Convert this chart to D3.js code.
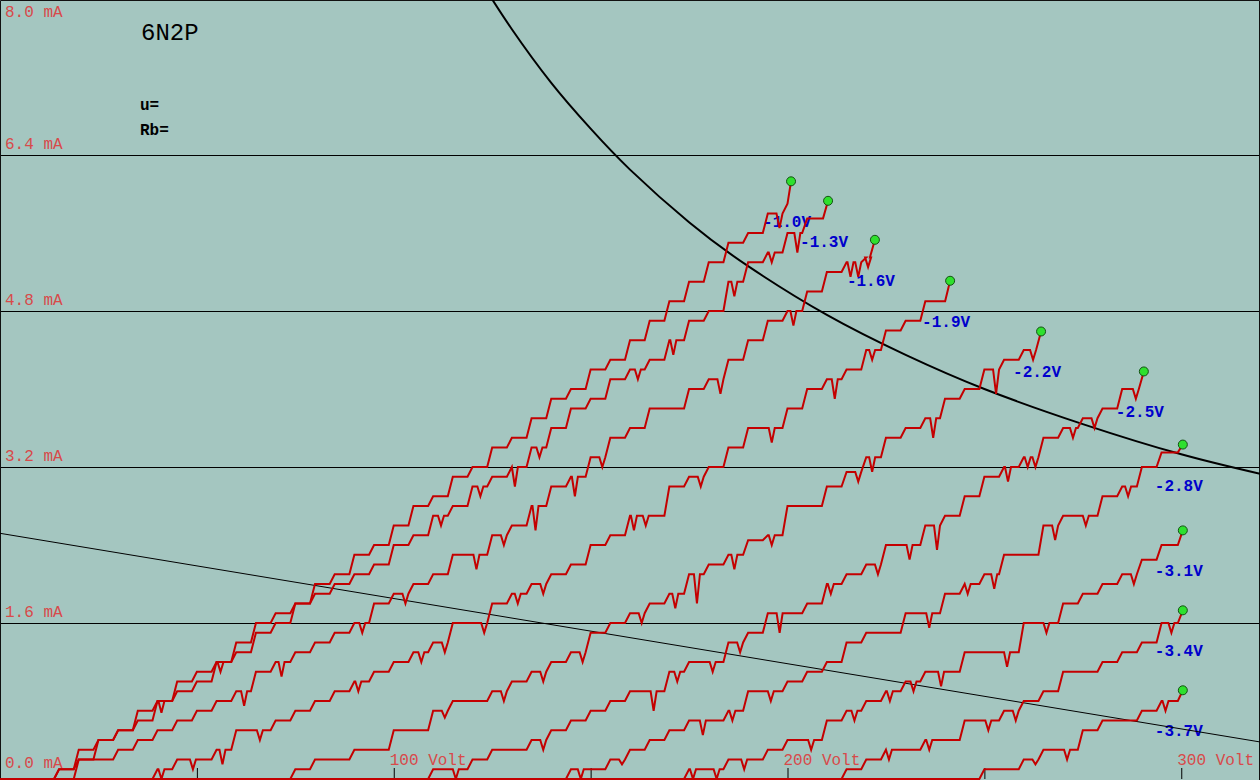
<!DOCTYPE html>
<html><head><meta charset="utf-8">
<script src="https://cdn.jsdelivr.net/npm/d3@7"></script>
<style>
html,body{margin:0;padding:0;background:#a4c6c0;overflow:hidden}
svg{display:block}
text{font-family:"Liberation Mono","DejaVu Sans Mono",monospace}
</style></head><body>
<svg id="chart" width="1260" height="780"></svg>
<script>
// ---------- data ----------
const title = "6N2P";
const infoLines = ["u=", "Rb="];
const yTicks = [0, 1.6, 3.2, 4.8, 6.4, 8.0];
const yTickLabels = ["0.0 mA", "1.6 mA", "3.2 mA", "4.8 mA", "6.4 mA", "8.0 mA"];
const yGrid = [1.6, 3.2, 4.8, 6.4];
const xTicks = [50, 100, 150, 200, 250, 300];
const xLabelValues = [100, 200, 300];
const xTickLabels = ["100 Volt", "200 Volt", "300 Volt"];
const gridLabels = ["-1.0V", "-1.3V", "-1.6V", "-1.9V", "-2.2V", "-2.5V", "-2.8V", "-3.1V", "-3.4V", "-3.7V"];

// anode current (mA) sampled every 5 V, starting at curveStart (V)
const sampleStep = 5;
const curveStart = [10, 10, 15, 30, 70, 105, 140, 170, 210, 245];
const ia_1_0 = [0,0.1,0.3,0.4,0.5,0.7,0.8,1.0,1.1,1.2,1.4,1.6,1.7,1.8,2.0,2.1,2.3,2.4,2.6,2.8,2.9,3.1,3.2,3.4,3.5,3.7,3.9,4.0,4.2,4.3,4.5,4.7,4.9,5.1,5.3,5.5,5.6,5.8,5.9];
const ia_1_3 = [0,0.1,0.2,0.4,0.5,0.6,0.8,0.9,1.0,1.2,1.3,1.5,1.6,1.8,1.9,2.0,2.1,2.2,2.4,2.5,2.7,2.8,3.0,3.1,3.2,3.4,3.6,3.8,3.9,4.1,4.2,4.3,4.5,4.7,4.8,5.1,5.3,5.4,5.6,5.75];
const ia_1_6 = [0,0.2,0.2,0.3,0.4,0.5,0.6,0.7,0.8,0.9,1.1,1.2,1.3,1.4,1.5,1.6,1.8,1.9,2.0,2.1,2.3,2.3,2.5,2.6,2.8,3.0,3.1,3.3,3.5,3.6,3.8,3.8,4.0,4.1,4.3,4.5,4.7,4.8,5.0,5.2,5.3,5.35];
const ia_1_9 = [0,0,0.1,0.2,0.2,0.3,0.5,0.5,0.6,0.7,0.8,0.9,1.0,1.1,1.2,1.3,1.4,1.6,1.6,1.8,1.9,2.0,2.1,2.2,2.4,2.5,2.7,2.7,3.0,3.1,3.2,3.4,3.6,3.6,3.8,4.0,4.1,4.2,4.4,4.6,4.7,4.9];
const ia_2_2 = [0,0.1,0.2,0.2,0.3,0.3,0.5,0.5,0.7,0.8,0.8,0.9,1.0,1.1,1.2,1.3,1.5,1.6,1.7,1.8,1.9,2.1,2.2,2.3,2.45,2.5,2.8,2.8,3.0,3.15,3.3,3.5,3.6,3.7,3.9,4.0,4.2,4.3,4.4];
const ia_2_5 = [0,0.1,0.1,0.2,0.3,0.3,0.4,0.5,0.6,0.7,0.8,0.9,0.9,1.1,1.2,1.2,1.4,1.5,1.7,1.7,1.8,2.0,2.1,2.2,2.4,2.4,2.6,2.7,2.9,3.1,3.2,3.3,3.5,3.6,3.7,3.8,4.0];
const ia_2_8 = [0,0.1,0.1,0.2,0.3,0.4,0.5,0.6,0.6,0.7,0.9,0.9,1.0,1.1,1.2,1.4,1.5,1.5,1.7,1.7,1.9,2.0,2.1,2.3,2.3,2.6,2.7,2.7,2.9,3.0,3.2,3.35];
const ia_3_1 = [0,0.1,0.1,0.2,0.2,0.3,0.4,0.4,0.6,0.7,0.8,0.9,1.0,1.1,1.1,1.3,1.3,1.3,1.6,1.6,1.8,1.9,2.0,2.1,2.25,2.4];
const ia_3_4 = [0,0.1,0.2,0.3,0.3,0.4,0.4,0.6,0.6,0.7,0.8,0.9,1.1,1.1,1.2,1.3,1.4,1.6];
const ia_3_7 = [0,0.1,0.1,0.2,0.3,0.3,0.5,0.6,0.6,0.7,0.8];

// last measured point of each sweep [V, mA] (green dot)
const curveEnds = [[200.9,6.13],[210.3,5.93],[222.2,5.53],[241.3,5.11],[264.4,4.59],[290.5,4.18],[300.4,3.43],[300.4,2.55],[300.4,1.73],[300.4,0.91]];

// short downward glitches in the traces [V, mA]
const dip_1_0 = [[198,5.65]];
const dip_1_3 = [[41,0.68],[56,1.1],[112,2.6],[122,2.9],[130,3.0],[137,3.3],[162,4.1],[171,4.35],[186.5,4.95],[196,5.3],[202.5,5.4]];
const dip_1_6 = [[62,0.75],[71.5,1.05],[92,1.5],[104,1.8],[121,2.15],[129,2.4],[136,2.55],[146,2.9],[154,3.2],[183,3.95],[201.5,4.65],[216,5.15],[218.5,5.15],[221,5.25]];
const dip_1_9 = [[41,0.0],[49,0.1],[56.5,0.15],[66,0.4],[91,0.9],[107,1.2],[113,1.3],[123,1.5],[131.5,1.8],[139,1.9],[161,2.55],[164,2.6],[178,3.0],[196,3.45],[212,3.9],[221.5,4.3]];
const dip_2_2 = [[113,0.63],[129.5,0.8],[139,1.0],[148,1.2],[164,1.6],[171.5,1.75],[177,1.8],[186.5,2.15],[196,2.4],[219,3.05],[221.5,3.15],[237,3.5],[253,3.95],[262.5,4.3]];
const dip_2_5 = [[115.5,0.0],[139,0.3],[166,0.7],[172,1.0],[181,1.1],[189,1.3],[198,1.5],[211,1.9],[223,2.1],[231,2.25],[238.5,2.35],[256,3.05],[261,3.2],[263.5,3.2],[272.5,3.5],[279,3.6],[288.5,3.9]];
const dip_2_8 = [[147.5,0.0],[159,0.15],[178.5,0.45],[186,0.6],[195.5,0.8],[236,1.55],[245.5,1.9],[252.5,1.95],[268,2.45],[275.5,2.6],[286.5,2.9]];
const dip_3_1 = [[176,0.0],[182,0.0],[189,0.1],[206,0.3],[217,0.6],[226,0.8],[232,0.9],[239,0.95],[255.5,1.15],[265.5,1.5],[289,2.0]];
const dip_3_4 = [[225,0.2],[236,0.3],[251,0.5],[258,0.6],[297.5,1.5]];
const dip_3_7 = [[263.5,0.15],[271,0.2],[296,0.7]];

// 1 W anode dissipation limit [V] / [mA]
const powerV = [124, 130, 140, 150, 160, 175, 190, 210, 230, 250, 275, 300, 320];
const powerI = [8.06, 7.69, 7.14, 6.67, 6.25, 5.71, 5.26, 4.76, 4.35, 4.00, 3.64, 3.33, 3.13];
// load line
const loadV = [0, 320];
const loadI = [2.52, 0.38];

const curveValues = [ia_1_0, ia_1_3, ia_1_6, ia_1_9, ia_2_2, ia_2_5, ia_2_8, ia_3_1, ia_3_4, ia_3_7];
const curveDips = [dip_1_0, dip_1_3, dip_1_6, dip_1_9, dip_2_2, dip_2_5, dip_2_8, dip_3_1, dip_3_4, dip_3_7];

// ---------- drawing ----------
const W = 1260, H = 780;
const svg = d3.select("#chart");
const x = d3.scaleLinear().domain([0, 320]).range([0, 1260]);
const y = d3.scaleLinear().domain([0, 8]).range([779, -1]);

const RED_TXT = "#d84a4a";
svg.append("rect").attr("width", W).attr("height", H).attr("fill", "#a4c6c0");

// grid lines
const grid = svg.append("g").attr("class", "grid")
  .call(d3.axisLeft(y).tickValues(yGrid).tickSize(-W).tickFormat(""));
grid.select(".domain").remove();
grid.selectAll("line").attr("stroke", "#000").attr("stroke-width", 1);

// ticks on bottom
const xa = svg.append("g").attr("transform", "translate(0,779)")
  .call(d3.axisBottom(x).tickValues(xTicks).tickSize(-11).tickFormat(""));
xa.select(".domain").remove();
xa.selectAll("line").attr("stroke", "#000").attr("stroke-width", 1);

// frame
svg.append("path").attr("d", "M0.5,780V0.5H1259.5V780").attr("fill", "none").attr("stroke", "#111").attr("stroke-width", 1);

// y labels
svg.append("g").selectAll("text").data(yTicks).join("text")
  .attr("x", 5)
  .attr("y", d => Math.min(Math.max(y(d) - 6, 17), 768))
  .attr("fill", RED_TXT).attr("font-size", 16)
  .text((d, i) => yTickLabels[i]);

// x labels
svg.append("g").selectAll("text").data(xLabelValues).join("text")
  .attr("x", d => x(d) - 4).attr("y", 765)
  .attr("fill", RED_TXT).attr("font-size", 16)
  .text((d, i) => xTickLabels[i]);

// title & info
svg.append("text").attr("x", 141).attr("y", 40).attr("font-size", 24).attr("fill", "#000").text(title);
svg.append("g").selectAll("text").data(infoLines).join("text")
  .attr("x", 140).attr("y", (d, i) => 110 + i * 25)
  .attr("font-size", 16).attr("font-weight", "bold").attr("fill", "#000")
  .text(d => d);

// grid-voltage labels
svg.append("g").selectAll("text").data(curveEnds).join("text")
  .attr("x", d => x(d[0]) - 28).attr("y", d => y(d[1]) + 46)
  .attr("font-size", 16).attr("font-weight", "bold").attr("fill", "#0000cc")
  .text((d, i) => gridLabels[i]);

// load line and dissipation hyperbola
const line = d3.line().x(d => x(d[0])).y(d => y(d[1]));
svg.append("path").datum(loadV.map((v, i) => [v, loadI[i]]))
  .attr("d", line).attr("fill", "none").attr("stroke", "#000").attr("stroke-width", 1);
svg.append("path").datum(powerV.map((v, i) => [v, powerI[i]]))
  .attr("d", line.curve(d3.curveNatural)).attr("fill", "none").attr("stroke", "#000").attr("stroke-width", 2);

// staircase traces
const RISE = 5, DIPW = 3;
function traceVerts(k) {
  const vals = curveValues[k], st = curveStart[k];
  const dips = curveDips[k].slice().sort((a, b) => a[0] - b[0]);
  const pts = [[0, 0]];
  vals.forEach((v, i) => pts.push([st + i * sampleStep, v]));
  pts.push(curveEnds[k]);
  const verts = [[x(0), y(0)]];
  let di = 0;
  for (let i = 1; i < pts.length; i++) {
    const x0 = x(pts[i - 1][0]), y0 = y(pts[i - 1][1]);
    const x1 = x(pts[i][0]), y1 = y(pts[i][1]);
    const flatEnd = (y1 === y0) ? x1 : Math.max(x0, x1 - RISE);
    while (di < dips.length && x(dips[di][0]) < x1) {
      const xd = x(dips[di][0]);
      const lo = x0 + DIPW, hi = flatEnd - DIPW;
      const xc = hi < lo ? (x0 + flatEnd) / 2 : Math.min(Math.max(xd, lo), hi);
      verts.push([xc - DIPW, y0], [xc, y(dips[di][1])], [xc + DIPW, y0]);
      di++;
    }
    if (flatEnd < x1) verts.push([flatEnd, y0]);
    verts.push([x1, y1]);
  }
  return verts;
}
const pxLine = d3.line();
svg.append("g").selectAll("path").data(curveValues.map((_, k) => traceVerts(k))).join("path")
  .attr("d", pxLine).attr("fill", "none").attr("stroke", "#c40000")
  .attr("stroke-width", 2).attr("stroke-linejoin", "miter");

// end dots
svg.append("g").selectAll("circle").data(curveEnds).join("circle")
  .attr("cx", d => x(d[0])).attr("cy", d => y(d[1])).attr("r", 4.5)
  .attr("fill", "#2ee02e").attr("stroke", "#145014").attr("stroke-width", 1);
</script>
</body></html>
